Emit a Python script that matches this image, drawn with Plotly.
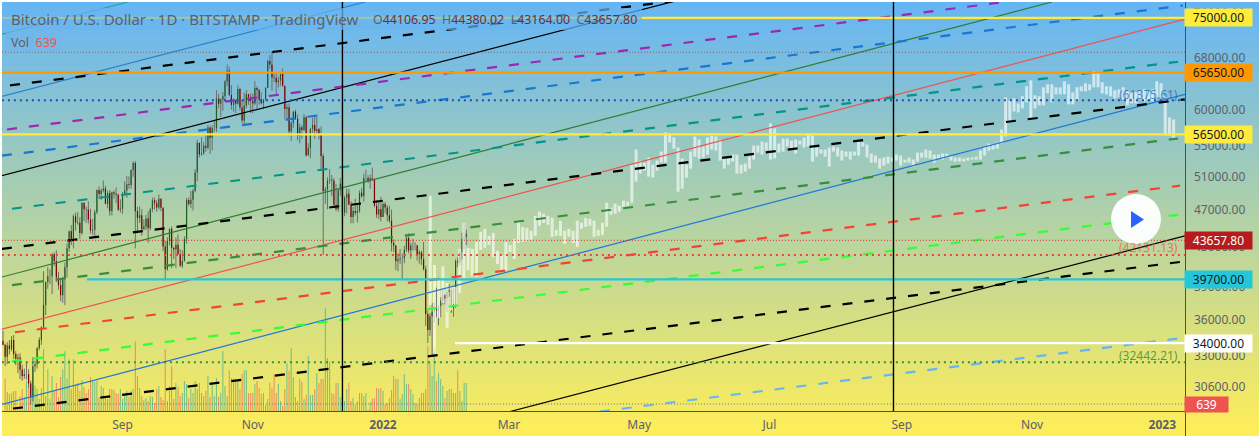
import math
import plotly.graph_objects as go

# daily bars, 2021-07-07 .. 2022-02-09 (day 0 = 2022-01-01)
closes = [33860, 32880, 33800, 33510, 34260, 33110, 32730, 32820, 31860, 31380, 31520, 31530, 30820, 29790, 32130, 32290, 33590, 34270, 35350, 37300, 39450, 40000, 40010, 42200, 41480,
          39870, 39150, 38200, 39730, 40880, 42830, 44620, 43810, 46290, 45580, 45560, 44430, 47830, 47100, 47020, 45930, 44700, 44800, 46750, 49330, 48870, 49290, 49530, 47710, 48990, 46850, 49070, 48900, 48780, 47030, 47150,
          48840, 49280, 50030, 49950, 51790, 52700, 46870, 46080, 46400, 44850, 45150, 46050, 44950, 47100, 48130, 47780, 47300, 48300, 47250, 43000, 40700, 43580, 44900, 42850, 42700, 43200, 42200, 41050, 41520, 43800,
          48150, 47700, 48200, 49250, 51500, 55350, 53800, 53950, 54950, 54700, 57450, 56050, 57350, 57350, 61650, 60850, 61500, 62000, 64250, 66000, 62200, 60700, 61300, 60850, 63100, 60300, 58450, 60600, 62300, 61850, 61300,
          60900, 63250, 62950, 61450, 60950, 61500, 63300, 67550, 66950, 64900, 64800, 64150, 64400, 65500, 63600, 60100, 60350, 56900, 58100, 59700, 58700, 56300, 57500, 57100, 58900, 53700, 54700, 57250, 57800, 56950,
          57200, 56500, 53600, 49200, 49400, 50500, 50600, 50500, 47600, 47100, 49300, 50100, 46700, 48400, 48900, 47600, 46200, 46900, 46700, 46900, 49000, 48600, 50800, 50800, 50400, 50800, 50700, 47500, 46500, 47100, 46200,
          47700, 47300, 46400, 45800, 43400, 43100, 41500, 41700, 41800, 41800, 42700, 43900, 42600, 43100, 43100, 43100, 42200, 42400, 41700, 40700, 36500, 35100, 36300, 36700, 37000, 36800, 37200, 37700, 38200, 37900, 38500,
          38700, 37000, 37300, 41500, 41400, 42400, 43800, 44000, 44400]
highs = [35050, 33950, 34080, 34250, 34590, 34670, 33340, 33120, 33170, 32250, 31950, 32430, 31900, 31030, 32850, 32580, 33650, 34480, 35400, 40500, 39500, 40900, 40650, 42300, 42400,
         42600, 40450, 39750, 39950, 41350, 43350, 44700, 45300, 46500, 46700, 46750, 46200, 47900, 47850, 47400, 48000, 47150, 46000, 47000, 49400, 49800, 49500, 50500, 49850, 49250, 49350, 49150, 49300, 49650, 48900, 48250,
         49100, 50400, 51050, 51000, 51900, 52900, 52950, 47350, 47400, 47100, 45950, 46450, 46850, 47250, 48450, 48450, 48150, 48800, 48350, 47300, 43600, 44000, 44950, 45150, 43000, 43950, 44300, 42750, 42600, 44100,
         48400, 48450, 49250, 49500, 51900, 55750, 55350, 56100, 55450, 56500, 57800, 57650, 57750, 58500, 62900, 62350, 61700, 62650, 64500, 67000, 66600, 63700, 61700, 61450, 63700, 63300, 61500, 62500, 62950, 62350, 62400,
         62400, 64300, 63500, 63100, 62600, 61500, 63300, 67800, 68500, 69000, 65600, 65450, 65000, 65500, 66300, 63500, 60800, 60950, 58350, 59800, 60000, 59300, 58000, 57800, 59400, 59100, 55300, 57400, 58850, 59200,
         59000, 57400, 57600, 53900, 49700, 50900, 51900, 51200, 50800, 50100, 49500, 50800, 50200, 48650, 49500, 49450, 48000, 47350, 48300, 47550, 49300, 49600, 51350, 51850, 51150, 51250, 52100, 50700, 48150, 47900, 48550,
         47900, 47950, 47550, 47500, 47050, 43750, 43150, 42300, 42750, 42250, 43100, 44300, 44400, 43400, 43800, 43450, 43200, 42650, 42550, 43500, 41050, 36800, 36550, 37500, 37550, 38900, 37250, 38000, 38700, 38300, 38750,
         39250, 38850, 37400, 41700, 41900, 42650, 44500, 45500, 44800]
lows = [33800, 32150, 32300, 33050, 33320, 32700, 32220, 31600, 31150, 31020, 31170, 31110, 30500, 29280, 29480, 31700, 31950, 33400, 33850, 35200, 36400, 38800, 39250, 38300, 41000,
        39450, 38700, 37650, 37500, 37300, 39900, 42450, 43150, 42800, 44700, 45350, 43800, 44250, 45750, 45550, 45500, 44400, 44250, 43950, 46550, 48300, 48150, 49050, 47650, 47200, 46350, 46400, 48300, 47800, 46900, 46700,
        46550, 48650, 48400, 49450, 49500, 50950, 42800, 44400, 45550, 44150, 44750, 44750, 43400, 44750, 46750, 47050, 46800, 47050, 46850, 42500, 39600, 40550, 43100, 40800, 41700, 40800, 42150, 40900, 40800, 41450,
        43300, 47450, 47200, 46950, 49050, 50400, 53400, 53650, 53750, 54150, 54450, 53850, 54300, 56850, 56850, 60200, 58950, 59850, 61350, 63500, 62000, 60000, 59700, 59500, 60700, 59850, 58100, 57800, 60200, 60700, 59500,
        59450, 60650, 60100, 60700, 60800, 60100, 61350, 63250, 66300, 62800, 64150, 62300, 63350, 63600, 63400, 58600, 58400, 56500, 55600, 57400, 58500, 55700, 55300, 55900, 57000, 53500, 53600, 53300, 56700, 55900,
        56500, 55800, 51700, 42131, 47700, 47100, 50100, 48600, 47300, 46900, 46800, 48650, 45700, 46300, 46600, 47550, 45500, 45500, 46400, 45600, 46650, 48450, 47950, 50450, 50200, 49500, 50450, 47300, 46100, 45950, 45700,
        46200, 46650, 45700, 45550, 42500, 42450, 40600, 40500, 41200, 39650, 41300, 42450, 42300, 41750, 42600, 42600, 41550, 41250, 41100, 40550, 35450, 34000, 34600, 32950, 35700, 36200, 35500, 36200, 37350, 37350, 36650,
        38050, 36600, 36250, 37050, 40900, 41100, 41650, 42700, 43150]
first_open = 34200

# volume, 2021-07-08 .. 2022-02-09
volumes = [2912, 1729, 1547, 1638, 1820, 1820, 364, 1365, 2002, 1274, 2730, 3276, 1365, 2093, 2275, 2002, 1092, 2093, 5642, 1365,
           3822, 1092, 3185, 1820, 2548, 1274, 3094, 3822, 5460, 2912, 4732, 2002, 4732, 2366, 2548, 1820, 2821, 2184, 1638, 2002,
           3094, 2730, 2639, 2730, 1274, 2275, 2093, 1365, 1092, 2002, 2002, 1911, 1638, 1547, 2002, 1092, 1547, 1820, 1274, 1820,
           2002, 6370, 3185, 2093, 1365, 1001, 1183, 910, 1365, 1274, 728, 2002, 2275, 1274, 1001, 5642, 910, 2275, 4095, 1092,
           2548, 2184, 1365, 1638, 2730, 2457, 1183, 2002, 1638, 2730, 2002, 2548, 1638, 1365, 1820, 3185, 1274, 2548, 1365, 3003,
           1274, 1638, 5460, 2275, 1365, 3731, 3003, 2912, 2730, 2730,
           2002, 3367, 3731, 3731, 1638, 1638, 1638, 2457, 2730, 2093, 1547, 1638, 546, 1092, 2548, 2093, 3367, 1638, 2457, 910,
           455, 2002, 4368, 3640, 5733, 3094, 1274, 910, 2912, 2639, 1092, 1456, 5005, 1456, 1456, 2002, 3458, 2548, 2912, 2912,
           9373, 4823, 4550, 1638, 1547, 2548, 2548, 1274, 1183, 910, 2002, 2548, 910, 1183, 546, 910, 1638, 1638, 1365, 1638,
           182, 819, 1092, 1183, 2093, 2002, 2093, 1820, 637, 728, 1183, 1911, 3185, 2912, 2912, 1092, 1547, 3367, 2457, 2457,
           2002, 1547, 728, 637, 1183, 1638, 1638, 2002, 5915, 4368, 3185, 5642, 2730, 3458, 2912, 2275, 1183, 1820, 2002, 2002,
           1638, 1638, 3731, 1820, 910, 2548, 2548, 637]

# ghost bar pattern, open/close extent only
ghost_top = [48660, 41115, 39640, 41015, 39350, 38970, 38970, 42755, 45560, 42860, 42755, 43490, 44570, 44900, 44135, 44460, 42550, 42135, 43490, 43175, 43810, 45670, 45115, 45005, 44680, 46345, 46800, 46570, 46345, 46115, 44790, 45780, 44680, 44900, 44680, 45780, 45560, 46115, 46005, 45780, 44790, 45560, 47840, 47260, 47725, 47490, 48075, 47955,
             52490, 54450, 53005, 52745, 53395, 52490, 53005, 54180, 56755, 56620, 56070, 54715, 53265, 52490, 54180, 56205, 55795, 54850, 56070, 56340, 56205, 55795, 53395, 53265, 53785, 53785, 52490, 52615, 53525, 54980, 54980, 55520, 55385, 58020, 57315, 55250, 55930, 55930, 55660, 55795, 55660, 56070, 56480, 56340, 54715, 54450, 54450, 54715, 54850, 54715,
             54315, 54180, 54180, 54180, 55520, 55385, 55115, 53920, 53655, 53265, 53395, 53525, 53395, 53785,
             53655, 53135, 53395, 53135, 54050, 54050, 54450, 54315, 53785, 53785, 53920, 53920, 53655, 53395, 53395, 53265, 53395, 53395, 53525, 54315, 54850, 55250, 55115, 55385, 57175, 61820, 61370, 61670, 60920, 61975, 63505, 64440, 62125, 61975, 63350, 63815, 63815, 63350, 63350, 64285, 63815, 62580, 63350, 63505, 63970, 63815, 65875, 65715, 64130, 63505, 63505, 62890, 63045, 63350, 62735, 62580, 62580, 62735, 63045, 62735, 63045, 64285, 63970, 61975, 58875, 58590]
ghost_bottom = [37290, 33170, 36130, 37470, 35255, 36840, 37290, 38400, 39830, 40615, 40025, 39930, 42650, 42860, 43175, 41930, 41215, 40615, 40615, 42445, 41720, 43385, 43490, 43600, 43705, 44135, 45225, 45560, 45340, 44030, 44135, 44135, 43280, 44030, 43385, 42965, 44900, 45115, 45225, 44030, 44135, 44245, 45115, 46460, 46570, 46800, 47375, 47490,
                47840, 50355, 51350, 51725, 50970, 50850, 51725, 52745, 52745, 55385, 54580, 49140, 49505, 50850, 51980, 53525, 53265, 53395, 53785, 54450, 54315, 53005, 51980, 52490, 52875, 51345, 51345, 51600, 51980, 53135, 54050, 53785, 54315, 53135, 53265, 54050, 54180, 54850, 54580, 53920, 55115, 54715, 54850, 52875, 53525, 53920, 53525, 52235, 54180, 53525,
                53005, 53525, 53135, 53655, 53655, 54850, 53395, 52745, 52745, 51980, 52360, 52615, 52875, 53005,
                52360, 52745, 52745, 52235, 52875, 53395, 53395, 53265, 52745, 53265, 53135, 53395, 53005, 52875, 52875, 52875, 53005, 53135, 53135, 53135, 53655, 54315, 54450, 54580, 55250, 56205, 58445, 59745, 59600, 60185, 61070, 58875, 60185, 60625, 60625, 62430, 61070, 62275, 62275, 62275, 60775, 60775, 61220, 62735, 62735, 62890, 63350, 63350, 62430, 62275, 61975, 61670, 61820, 61520, 60625, 60920, 60920, 61520, 61220, 61520, 61220, 61820, 61820, 56340, 56340, 56070]

# trend lines as (day, price) end points
dashed_d0 = [-174.7, -176.1, -178.5, -173.8, -178.5, -173.8, -172.4, -173.8, -173.3, 101.6]
dashed_p0 = [63650, 57174, 53650, 47141, 42753, 39152, 34907, 32521, 28994, 28782]
dashed_d1 = [136.8, 298.4, 374.7, 372.4, 375.6, 372.4, 373.3, 372.4, 373.3, 373.3]
dashed_p1 = [78190, 78350, 77300, 67421, 61522, 55931, 49864, 46454, 41416, 34400]
dashed_colors = ['#000000', '#9C27B0', '#1976D2', '#009688', '#000000', '#388E3C', '#F44336', '#33FF33', '#000000', '#64B5F6']

solid_d0 = [-178.5, -178.5, -178.5, -178.5, -178.5, -178.5, 59.5]
solid_p0 = [72100, 61973, 51097, 39927, 35164, 29278, 28782]
solid_d1 = [-119.4, -8.4, 136.8, 313.3, 375.6, 375.6, 375.6]
solid_p1 = [77970, 77970, 78150, 77970, 74792, 62277, 44132]
solid_colors = ['#26A69A', '#2F80D0', '#000000', '#2E7D32', '#EF5350', '#1E78D8', '#000000']

vline_days = [-19, 239.1]

level_prices = [75000, 65650, 56500, 39700, 34000]
level_start = [-178.5, -178.5, -178.5, -138.6, 33.7]
level_colors = ['#FFEB3B', '#FF9800', '#FFEB3B', '#26C6DA', '#FFFFFF']

dot_prices = [61375.61, 42131.13, 32442.21]
dot_colors = ['#1A4FB0', '#F44336', '#388E3C']
thin_prices = [69000, 43657.80]
thin_colors = ['#8D5A50', '#D32F2F']
last_volume = 639

month_days = [-122, -61, 0, 59, 120, 181, 243, 304, 365]
month_labels = ['Sep', 'Nov', '<b>2022</b>', 'Mar', 'May', 'Jul', 'Sep', 'Nov', '<b>2023</b>']
price_ticks = [76000, 68000, 60000, 55000, 51000, 47000, 43000, 39000, 36000, 33000, 30600]

tag_prices = [75000, 65650, 56500, 43657.80, 39700, 34000]
tag_fill = ['#FFEB3B', '#FF9800', '#FFEB3B', '#B71C1C', '#26C6DA', '#FFFFFF']
tag_ink = ['#131722', '#131722', '#131722', '#FFFFFF', '#131722', '#131722']

FONT = 'Noto Sans'
W, H = 1259, 436
LEFT, RIGHT, TOP, BOTTOM = 2, 1185, 2, 411
PX_PER_DAY = 2.135
PRICE_TOP, PRICE_BOTTOM = 77965, 28820


def sticks(xs, lo, hi):
    x, y = [], []
    for d, a, b in zip(xs, lo, hi):
        x += [d, d, None]
        y += [a, b, None]
    return x, y


days = list(range(-178, -178 + len(closes)))
opens = [first_open] + closes[:-1]

fig = go.Figure()

# page gradient on a pixel axis pair that fills the whole figure
fig.add_trace(go.Heatmap(x=[0, W], y=[0, H], z=[[0, 0], [1, 1]], zsmooth='best', showscale=False,
                         colorscale=[[0, '#64B5F6'], [1, '#FFEE58']], xaxis='x', yaxis='y', hoverinfo='skip'))

vol_days = days[1:]
vol_colors = ['rgba(38,166,154,0.6)' if c >= o else 'rgba(239,83,80,0.6)' for c, o in zip(closes[1:], opens[1:])]
fig.add_trace(go.Bar(x=vol_days, y=volumes, width=0.5, marker=dict(color=vol_colors, line_width=0), xaxis='x2', yaxis='y2'))
fig.add_trace(go.Scatter(x=[-178.5, 375.6], y=[last_volume, last_volume], mode='lines', xaxis='x2', yaxis='y2',
                         line=dict(color='#5C6BC0', width=1, dash='1px,2px')))

# candles
wx, wy = sticks(days, lows, highs)
fig.add_trace(go.Scatter(x=wx, y=wy, mode='lines', line=dict(color='#6E6E6E', width=1), xaxis='x2', yaxis='y3'))
up = [i for i in range(len(days)) if closes[i] >= opens[i]]
down = [i for i in range(len(days)) if closes[i] < opens[i]]
ux, uy = sticks([days[i] for i in up], [opens[i] for i in up], [closes[i] for i in up])
dx, dy = sticks([days[i] for i in down], [closes[i] for i in down], [opens[i] for i in down])
fig.add_trace(go.Scatter(x=ux, y=uy, mode='lines', line=dict(color='#1B5E20', width=1.2), xaxis='x2', yaxis='y3'))
fig.add_trace(go.Scatter(x=dx, y=dy, mode='lines', line=dict(color='#7F0000', width=1.2), xaxis='x2', yaxis='y3'))

ghost_days = [22.15 + i * 1.967 for i in range(len(ghost_top))]
gx, gy = sticks(ghost_days, ghost_bottom, ghost_top)
fig.add_trace(go.Scatter(x=gx, y=gy, mode='lines', line=dict(color='rgba(255,255,255,0.62)', width=3), xaxis='x2', yaxis='y3'))

for i in range(len(solid_d0)):
    fig.add_trace(go.Scatter(x=[solid_d0[i], solid_d1[i]], y=[solid_p0[i], solid_p1[i]], mode='lines',
                             line=dict(color=solid_colors[i], width=1.2), xaxis='x2', yaxis='y3'))
for i in range(len(dashed_d0)):
    fig.add_trace(go.Scatter(x=[dashed_d0[i], dashed_d1[i]], y=[dashed_p0[i], dashed_p1[i]], mode='lines',
                             line=dict(color=dashed_colors[i], width=2.2, dash='10px,12px'), xaxis='x2', yaxis='y3'))

for p, c in zip(thin_prices, thin_colors):
    fig.add_trace(go.Scatter(x=[-178.5, 375.6], y=[p, p], mode='lines', line=dict(color=c, width=1, dash='1px,2px'), xaxis='x2', yaxis='y3'))
for p, c in zip(dot_prices, dot_colors):
    fig.add_trace(go.Scatter(x=[-178.5, 375.6], y=[p, p], mode='lines', line=dict(color=c, width=2, dash='2px,4px'), xaxis='x2', yaxis='y3'))
for p, s, c in zip(level_prices, level_start, level_colors):
    fig.add_trace(go.Scatter(x=[s, 375.6], y=[p, p], mode='lines', line=dict(color=c, width=2.3), xaxis='x2', yaxis='y3'))
for d in vline_days:
    fig.add_trace(go.Scatter(x=[d, d], y=[PRICE_BOTTOM, PRICE_TOP], mode='lines', line=dict(color='#000000', width=1.4), xaxis='x2', yaxis='y3'))

pixel_shapes = [
    dict(type='rect', x0=LEFT, x1=642, y0=8, y1=30, fillcolor='rgba(105,181,240,0.7)', line_width=0),
    dict(type='rect', x0=6, x1=63, y0=30, y1=52, fillcolor='rgba(115,183,232,0.7)', line_width=0),
    dict(type='line', x0=LEFT, x1=RIGHT, y0=BOTTOM + 0.5, y1=BOTTOM + 0.5, line=dict(color='#4A4E58', width=1)),
    dict(type='line', x0=RIGHT + 0.5, x1=RIGHT + 0.5, y0=TOP, y1=H, line=dict(color='#4A4E58', width=1)),
    dict(type='circle', x0=1111, x1=1161, y0=194, y1=244, fillcolor='rgba(255,255,255,0.95)', line_width=0),
    dict(type='path', path='M 1131 211 L 1131 228 L 1144 219.5 Z', fillcolor='#2962FF', line_width=0),
    dict(type='rect', x0=0, x1=W, y0=0, y1=TOP, fillcolor='#FFFFFF', line_width=0),
    dict(type='rect', x0=0, x1=LEFT, y0=0, y1=H, fillcolor='#FFFFFF', line_width=0),
]
for s in pixel_shapes:
    fig.add_shape(xref='x', yref='y', layer='above', **s)

notes = []
for p, bg, ink in zip(tag_prices, tag_fill, tag_ink):
    notes.append(dict(xref='x', yref='y3', x=RIGHT - 1, y=math.log10(p), xanchor='left', yanchor='middle', text=f'{p:.2f}',
                      bgcolor=bg, width=65, height=15, borderpad=1, showarrow=False, align='center',
                      font=dict(family=FONT, size=12, color=ink)))
notes.append(dict(xref='x', yref='y2', x=RIGHT - 1, y=last_volume, xanchor='left', yanchor='middle', text=f'{last_volume}',
                  bgcolor='#EF5350', width=41, height=13, borderpad=1, showarrow=False, align='center',
                  font=dict(family=FONT, size=12, color='#FFFFFF')))
for p, c, label, shift in [(dot_prices[0], 'rgba(26,79,176,0.65)', '(61375.61)', -6),
                           (dot_prices[1], 'rgba(244,67,54,0.65)', '(42131.13)', -7),
                           (dot_prices[2], 'rgba(56,142,60,0.85)', '(32442.21)', -7)]:
    notes.append(dict(xref='x', yref='y3', x=1180, y=math.log10(p), xanchor='right', yanchor='middle', yshift=-shift, text=label,
                      showarrow=False, font=dict(family=FONT, size=12, color=c)))
red = '#6B3038'
ohlc = (f'O<span style="color:{red}">44106.95</span>  H<span style="color:{red}">44380.02</span>  '
        f'L<span style="color:{red}">43164.00</span>  C<span style="color:{red}">43657.80</span>')
notes.append(dict(xref='x', yref='y', x=9, y=19, xanchor='left', yanchor='middle', showarrow=False,
                  text='Bitcoin / U.S. Dollar · 1D · BITSTAMP · TradingView', font=dict(family=FONT, size=15, color='#5D606B')))
notes.append(dict(xref='x', yref='y', x=371, y=19, xanchor='left', yanchor='middle', showarrow=False,
                  text=ohlc, font=dict(family=FONT, size=12.4, color='#5D606B')))
notes.append(dict(xref='x', yref='y', x=9, y=42, xanchor='left', yanchor='middle', showarrow=False,
                  text='Vol  <span style="color:#EF5350">639</span>', font=dict(family=FONT, size=12.5, color='#5D606B')))

fig.update_layout(
    width=W, height=H, margin=dict(l=0, r=0, t=0, b=0), showlegend=False, barmode='overlay',
    paper_bgcolor='#FFFFFF', plot_bgcolor='rgba(0,0,0,0)', annotations=notes,
    xaxis=dict(domain=[0, 1], range=[0, W], visible=False, fixedrange=True),
    yaxis=dict(domain=[0, 1], range=[H, 0], visible=False, fixedrange=True),
    xaxis2=dict(domain=[LEFT / W, RIGHT / W], range=[(LEFT - 383) / PX_PER_DAY, (RIGHT - 383) / PX_PER_DAY], anchor='y2',
                tickmode='array', tickvals=month_days, ticktext=month_labels, showgrid=False, zeroline=False, ticks='',
                ticklabelstandoff=5, tickfont=dict(family=FONT, size=12, color='#5D606B')),
    yaxis2=dict(domain=[1 - BOTTOM / H, 1 - TOP / H], range=[0, 37340], visible=False),
    yaxis3=dict(domain=[1 - BOTTOM / H, 1 - TOP / H], type='log', range=[math.log10(PRICE_BOTTOM), math.log10(PRICE_TOP)],
                anchor='x2', side='right', tickmode='array', tickvals=price_ticks, ticktext=[f'{p}.00' for p in price_ticks],
                showgrid=False, zeroline=False, ticks='', ticklabelstandoff=8, tickfont=dict(family=FONT, size=12, color='#5D606B')),
)

fig.write_html("out.html", config={'displayModeBar': False},
               post_script="document.body.style.margin='0';document.documentElement.style.overflow='hidden';")
